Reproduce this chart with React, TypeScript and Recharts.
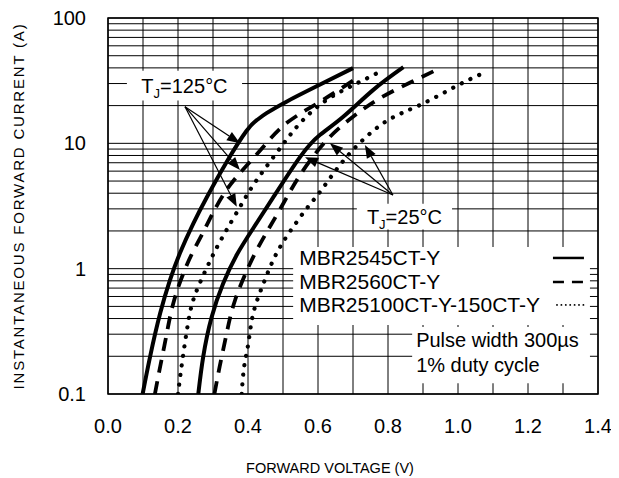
import React from 'react'
import { LineChart, Line, XAxis, YAxis, CartesianGrid, ReferenceArea, ReferenceLine } from 'recharts'

const FONT = '"Liberation Sans", Arial, Helvetica, sans-serif'

// forward voltage (V) ticks, grid every 0.1, labels every 0.2
const xTicks = [0, 0.1, 0.2, 0.3, 0.4, 0.5, 0.6, 0.7, 0.8, 0.9, 1.0, 1.1, 1.2, 1.3, 1.4]
// log grid for current (A)
const yTicks = [
  0.1, 0.2, 0.3, 0.4, 0.5, 0.6, 0.7, 0.8, 0.9,
  1, 2, 3, 4, 5, 6, 7, 8, 9,
  10, 20, 30, 40, 50, 60, 70, 80, 90, 100,
]
const yLabels = [0.1, 1, 10, 100]

// [V, A]
const solid125 = [[0.099, 0.1], [0.12, 0.197], [0.149, 0.44], [0.177, 0.81], [0.206, 1.34], [0.244, 2.3], [0.282, 3.7], [0.339, 7.1], [0.396, 12.6], [0.425, 15.3], [0.453, 17.4], [0.51, 21.5], [0.596, 28.5], [0.70, 39.8]]
const dashed125 = [[0.134, 0.1], [0.149, 0.165], [0.168, 0.305], [0.189, 0.56], [0.227, 1.1], [0.268, 1.86], [0.306, 3.0], [0.34, 4.3], [0.377, 5.8], [0.444, 9.4], [0.51, 14.5], [0.606, 21.5], [0.71, 33]]
const dotted125 = [[0.2, 0.1], [0.21, 0.165], [0.227, 0.344], [0.247, 0.6], [0.284, 1.04], [0.31, 1.46], [0.339, 2.04], [0.382, 3.28], [0.425, 5.1], [0.496, 9.5], [0.549, 14.5], [0.625, 22.2], [0.72, 31], [0.777, 37.3]]
const solid25 = [[0.258, 0.1], [0.272, 0.198], [0.296, 0.41], [0.329, 0.76], [0.368, 1.29], [0.415, 2.1], [0.472, 3.7], [0.549, 7.8], [0.606, 11.7], [0.672, 16.3], [0.758, 26.7], [0.844, 40.5]]
const dashed25 = [[0.304, 0.1], [0.319, 0.165], [0.339, 0.305], [0.363, 0.56], [0.406, 1.1], [0.449, 1.86], [0.496, 3.13], [0.549, 5.6], [0.625, 10.6], [0.70, 16.3], [0.777, 22.9], [0.868, 31], [0.949, 39.8]]
const dotted25 = [[0.382, 0.1], [0.389, 0.165], [0.401, 0.254], [0.415, 0.44], [0.444, 0.76], [0.477, 1.25], [0.52, 1.98], [0.572, 3.13], [0.61, 4.25], [0.682, 7.8], [0.787, 14.5], [0.891, 20.2], [1.001, 29.2], [1.082, 37.3]]

// annotation arrows: [from, to]
const arrows125 = [
  [[0.22, 19.6], [0.377, 10.0]],
  [[0.22, 19.6], [0.377, 6.13]],
  [[0.22, 19.6], [0.368, 3.12]],
]
const arrows25 = [
  [[0.814, 3.87], [0.563, 7.74]],
  [[0.814, 3.87], [0.634, 10.0]],
  [[0.814, 3.87], [0.734, 9.7]],
]

const legendItems = ['MBR2545CT-Y', 'MBR2560CT-Y', 'MBR25100CT-Y-150CT-Y']
const noteLines = ['Pulse width 300µs', '1% duty cycle']

const toPts = (arr: number[][]) => arr.map(([v, i]) => ({ v, i }))

const solidStyle = { strokeWidth: 4 }
const dashedStyle = { strokeWidth: 3.8, strokeDasharray: '13 9' }
const dottedStyle = { strokeWidth: 4.2, strokeDasharray: '0.1 9.5', strokeLinecap: 'round' as const }

const arrowShape = (p: any) => {
  const { x1, y1, x2, y2 } = p
  if ([x1, y1, x2, y2].some((n) => n == null || isNaN(n))) return null
  const ang = Math.atan2(y2 - y1, x2 - x1)
  const L = 13
  const W = 5
  const bx = x2 - L * Math.cos(ang)
  const by = y2 - L * Math.sin(ang)
  const nx = -Math.sin(ang) * W
  const ny = Math.cos(ang) * W
  return (
    <g>
      <line x1={x1} y1={y1} x2={bx} y2={by} stroke="#000" strokeWidth={1.2} />
      <polygon points={`${x2},${y2} ${bx + nx},${by + ny} ${bx - nx},${by - ny}`} fill="#000" />
    </g>
  )
}

const tjLabel = (temp: string) => (props: any) => {
  const { x, y, width, height } = props.viewBox
  return (
    <text x={x + width / 2} y={y + height / 2 + 7} textAnchor="middle" fontSize={20} fontFamily={FONT} fill="#000">
      T<tspan fontSize={13} dy={5}>J</tspan>
      <tspan dy={-5}>={temp}°C</tspan>
    </text>
  )
}

const legendLabel = (props: any) => {
  const { x, y, width } = props.viewBox
  const right = x + width
  const rows = [11, 35, 58]
  return (
    <g fontFamily={FONT} fontSize={21} fill="#000">
      {legendItems.map((name, k) => (
        <text key={name} x={x + 6} y={y + rows[k] + 7}>{name}</text>
      ))}
      <line x1={right - 37} x2={right - 6} y1={y + rows[0]} y2={y + rows[0]} stroke="#000" strokeWidth={2.5} />
      <line x1={right - 37} x2={right - 6} y1={y + rows[1]} y2={y + rows[1]} stroke="#000" strokeWidth={2.5} strokeDasharray="11 8" />
      <line x1={right - 33} x2={right - 6} y1={y + rows[2]} y2={y + rows[2]} stroke="#000" strokeWidth={1.8} strokeDasharray="0.1 4.3" strokeLinecap="round" />
    </g>
  )
}

const noteLabel = (props: any) => {
  const { x, y } = props.viewBox
  return (
    <g fontFamily={FONT} fontSize={20} fill="#000">
      {noteLines.map((t, k) => (
        <text key={t} x={x + 4} y={y + 20 + k * 25}>{t}</text>
      ))}
    </g>
  )
}

export default function App() {
  return (
    <div style={{ width: 611, height: 470, background: '#fff' }}>
      <LineChart width={611} height={470} margin={{ top: 10, right: 21, bottom: 24, left: 30 }}>
        <CartesianGrid stroke="#000" strokeWidth={1} />
        <XAxis
          dataKey="v"
          type="number"
          domain={[0, 1.4]}
          ticks={xTicks}
          interval={0}
          allowDataOverflow
          tickLine={false}
          axisLine={false}
          tickSize={0}
          tickMargin={25}
          height={60}
          tick={{ fontSize: 20, fill: '#000', fontFamily: FONT }}
          tickFormatter={(v: number) => (Math.round(v * 10) % 2 === 0 ? v.toFixed(1) : '')}
          label={(props: any) => {
            const { x, y } = props.viewBox
            return (
              <text x={x + 222} y={y + 79} textAnchor="middle" fontSize={14.5} fontFamily={FONT} fill="#000">
                FORWARD VOLTAGE (V)
              </text>
            )
          }}
        />
        <YAxis
          type="number"
          scale="log"
          domain={[0.1, 100]}
          ticks={yTicks}
          interval={0}
          allowDataOverflow
          tickLine={false}
          axisLine={false}
          tickSize={0}
          tickMargin={22}
          width={70}
          tick={{ fontSize: 20, fill: '#000', fontFamily: FONT }}
          tickFormatter={(v: number) => (yLabels.includes(v) ? String(v) : '')}
          label={(props: any) => {
            const { x, y, height } = props.viewBox
            const cx = x - 20
            const cy = y + height / 2
            return (
              <text
                x={cx}
                y={cy}
                transform={`rotate(-90 ${cx} ${cy})`}
                textAnchor="middle"
                dominantBaseline="central"
                fontSize={15}
                letterSpacing={1.8}
                fontFamily={FONT}
                fill="#000"
              >
                INSTANTANEOUS FORWARD CURRENT (A)
              </text>
            )
          }}
        />

        <ReferenceArea x1={0.054} x2={0.383} y1={22} y2={38} fill="#fff" fillOpacity={1} stroke="none" label={tjLabel('125')} />
        <ReferenceArea x1={0.711} x2={0.983} y1={2.05} y2={3.3} fill="#fff" fillOpacity={1} stroke="none" label={tjLabel('25')} />
        <ReferenceArea x1={0.529} x2={1.377} y1={0.356} y2={1.49} fill="#fff" fillOpacity={1} stroke="none" label={legendLabel} />
        <ReferenceArea x1={0.869} x2={1.377} y1={0.122} y2={0.343} fill="#fff" fillOpacity={1} stroke="none" label={noteLabel} />
        <ReferenceArea x1={0} x2={1.4} y1={0.1} y2={100} fill="none" stroke="#000" strokeWidth={1.5} />

        {[...arrows125, ...arrows25].map((seg, k) => (
          <ReferenceLine
            key={k}
            segment={[{ x: seg[0][0], y: seg[0][1] }, { x: seg[1][0], y: seg[1][1] }]}
            shape={arrowShape}
          />
        ))}

        <Line data={toPts(solid125)} dataKey="i" type="natural" stroke="#000" {...solidStyle} dot={false} isAnimationActive={false} />
        <Line data={toPts(dashed125)} dataKey="i" type="natural" stroke="#000" {...dashedStyle} dot={false} isAnimationActive={false} />
        <Line data={toPts(dotted125)} dataKey="i" type="natural" stroke="#000" {...dottedStyle} dot={false} isAnimationActive={false} />
        <Line data={toPts(solid25)} dataKey="i" type="natural" stroke="#000" {...solidStyle} dot={false} isAnimationActive={false} />
        <Line data={toPts(dashed25)} dataKey="i" type="natural" stroke="#000" {...dashedStyle} dot={false} isAnimationActive={false} />
        <Line data={toPts(dotted25)} dataKey="i" type="natural" stroke="#000" {...dottedStyle} dot={false} isAnimationActive={false} />
      </LineChart>
    </div>
  )
}
